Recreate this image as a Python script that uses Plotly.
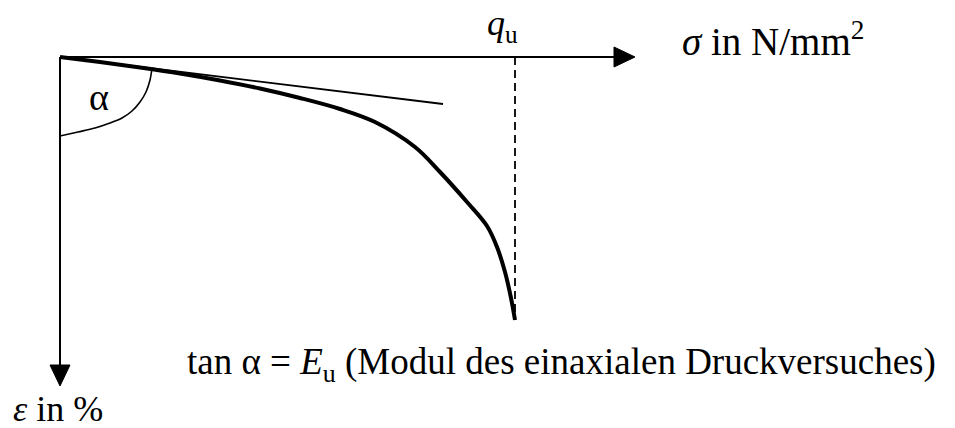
import plotly.graph_objects as go

# Stress-strain curve of the unconfined compression test (schematic)
sigma_curve = [0, 0.40, 0.80, 1.20, 1.60, 2.00, 2.40, 2.80, 3.15, 3.55, 3.80, 4.07, 4.27, 4.37, 4.45, 4.51, 4.55]
eps_curve = [0, 0.05, 0.105, 0.165, 0.235, 0.315, 0.41, 0.52, 0.65, 0.90, 1.15, 1.45, 1.69, 1.90, 2.15, 2.41, 2.63]

# Initial tangent (modulus E_u)
sigma_tangent = [0, 3.83]
eps_tangent = [0, 0.47]

# Angle marker alpha between the strain axis and the tangent
sigma_arc = [0.92, 0.90, 0.86, 0.80, 0.72, 0.62, 0.50, 0.35, 0.18, 0.0]
eps_arc = [0.11, 0.23, 0.35, 0.45, 0.54, 0.61, 0.66, 0.71, 0.75, 0.79]

# Unconfined compressive strength and axis extents
q_u = 4.55
eps_at_failure = 2.63
sigma_axis_end = 5.75
eps_axis_end = 3.29

head_len = 0.21
head_half = 0.10

FONT = "Liberation Serif, Times New Roman, serif"
BLACK = "#000000"

fig = go.Figure()

# sigma axis
fig.add_trace(go.Scatter(x=[0, sigma_axis_end - head_len], y=[0, 0], mode="lines",
                         line=dict(color=BLACK, width=2), hoverinfo="skip"))
fig.add_trace(go.Scatter(
    x=[sigma_axis_end, sigma_axis_end - head_len, sigma_axis_end - head_len, sigma_axis_end],
    y=[0, -head_half, head_half, 0], mode="lines", fill="toself",
    fillcolor=BLACK, line=dict(color=BLACK, width=1), hoverinfo="skip"))

# epsilon axis
fig.add_trace(go.Scatter(x=[0, 0], y=[0, eps_axis_end - head_len], mode="lines",
                         line=dict(color=BLACK, width=2), hoverinfo="skip"))
fig.add_trace(go.Scatter(
    x=[0, -head_half, head_half, 0],
    y=[eps_axis_end, eps_axis_end - head_len, eps_axis_end - head_len, eps_axis_end],
    mode="lines", fill="toself", fillcolor=BLACK,
    line=dict(color=BLACK, width=1), hoverinfo="skip"))

# failure stress marker
fig.add_trace(go.Scatter(x=[q_u, q_u], y=[0, eps_at_failure], mode="lines",
                         line=dict(color=BLACK, width=1.8, dash="8px,5px"), hoverinfo="skip"))

# tangent
fig.add_trace(go.Scatter(x=sigma_tangent, y=eps_tangent, mode="lines",
                         line=dict(color=BLACK, width=1.8), hoverinfo="skip"))

# angle arc
fig.add_trace(go.Scatter(x=sigma_arc, y=eps_arc, mode="lines",
                         line=dict(color=BLACK, width=1.6, shape="spline", smoothing=1.0),
                         hoverinfo="skip"))

# stress-strain curve
fig.add_trace(go.Scatter(x=sigma_curve, y=eps_curve, mode="lines",
                         line=dict(color=BLACK, width=4, shape="spline", smoothing=1.0),
                         hoverinfo="skip"))

def label(x, y, text, size):
    fig.add_annotation(x=x, y=y, xref="x", yref="y", text=text, showarrow=False,
                       xanchor="left", yanchor="middle",
                       font=dict(family=FONT, size=size, color=BLACK))

label(4.25, -0.32, "<i>q</i><sub>u</sub>", 36)
label(6.20, -0.18, "<i>σ</i> in N/mm<sup>2</sup>", 39)
label(0.27, 0.40, "α", 38)
label(1.25, 3.07, "tan α = <i>E</i><sub>u</sub> (Modul des einaxialen Druckversuches)", 37)
label(-0.49, 3.52, "<i>ε</i> in %", 36)

fig.update_layout(
    width=955, height=428, autosize=False,
    margin=dict(l=0, r=0, t=0, b=0),
    paper_bgcolor="white", plot_bgcolor="white",
    showlegend=False,
    xaxis=dict(range=[-0.60, 8.95], visible=False, fixedrange=True),
    yaxis=dict(range=[3.71, -0.57], visible=False, fixedrange=True),
)

fig.write_html("out.html")
